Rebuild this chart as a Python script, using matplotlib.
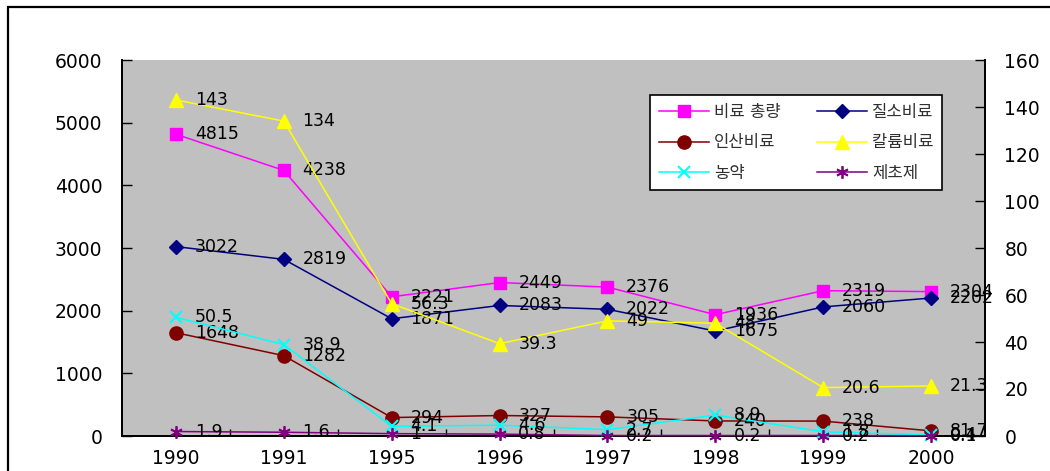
import matplotlib
matplotlib.use("Agg")
import matplotlib.pyplot as plt
from matplotlib.patches import Rectangle

plt.rcParams['font.family'] = ['DejaVu Sans', 'Noto Sans CJK KR']

# Categories (years)
years = ['1990', '1991', '1995', '1996', '1997', '1998', '1999', '2000']

# Primary axis series (fertiliser, left scale)
total_fert = [4815, 4238, 2221, 2449, 2376, 1936, 2319, 2304]
nitrogen = [3022, 2819, 1871, 2083, 2022, 1675, 2060, 2202]
phosphate = [1648, 1282, 294, 327, 305, 240, 238, 81.7]

# Secondary axis series (right scale)
potash = [143, 134, 56.3, 39.3, 49, 48, 20.6, 21.3]
pesticide = [50.5, 38.9, 4.1, 4.6, 2.7, 8.9, 1.8, 0.4]
herbicide = [1.9, 1.6, 1, 0.8, 0.2, 0.2, 0.2, 0.1]

names = ['비료 총량', '질소비료', '인산비료', '칼륨비료', '농약', '제초제']

W, H = 1050, 471
fig = plt.figure(figsize=(W / 100, H / 100), dpi=100)
fig.patch.set_facecolor('white')

# outer frame of the chart area
fig.patches.append(Rectangle((8 / W, -0.1), 1.2, 1 - 7 / H + 0.1,
                             transform=fig.transFigure, fill=False,
                             edgecolor='black', lw=1.6, zorder=0))

ax_l, ax_r = 122 / W, 985 / W
ax_b, ax_t = 1 - 436 / H, 1 - 60 / H
ax = fig.add_axes([ax_l, ax_b, ax_r - ax_l, ax_t - ax_b])
ax.set_facecolor('#C0C0C0')
ax2 = ax.twinx()

x = list(range(len(years)))

label_fs = 12.5
tick_fs = 13.5


def label_points(axis, xs, ys):
    for xi, yi in zip(xs, ys):
        txt = f"{yi:g}"
        axis.annotate(txt, (xi, yi), xytext=(13.5, 0), textcoords='offset points',
                      ha='left', va='center', fontsize=label_fs, color='black',
                      zorder=10, annotation_clip=False)


lw = 1.1
styles = [
    dict(color='#FF00FF', marker='s', ms=9, mfc='#FF00FF', mec='#FF00FF'),
    dict(color='#000080', marker='D', ms=7, mfc='#000080', mec='#000080'),
    dict(color='#800000', marker='o', ms=9.5, mfc='#800000', mec='#800000'),
    dict(color='#FFFF00', marker='^', ms=10, mfc='#FFFF00', mec='#FFFF00'),
    dict(color='#00FFFF', marker='x', ms=9, mew=1.5),
    dict(color='#800080', marker=(6, 2, 0), ms=9, mew=1.3),
]

handles = []
for data, st, nm in zip([total_fert, nitrogen, phosphate], styles[:3], names[:3]):
    h, = ax.plot(x, data, lw=lw, label=nm, zorder=3, **st)
    handles.append(h)
for data, st, nm in zip([potash, pesticide, herbicide], styles[3:], names[3:]):
    h, = ax2.plot(x, data, lw=lw, label=nm, zorder=3, clip_on=False, **st)
    handles.append(h)

for data in [total_fert, nitrogen, phosphate]:
    label_points(ax, x, data)
for data in [potash, pesticide, herbicide]:
    label_points(ax2, x, data)

ax.set_xlim(-0.5, len(years) - 0.5)
ax.set_ylim(0, 6000)
ax2.set_ylim(0, 160)
ax.set_yticks(range(0, 6001, 1000))
ax2.set_yticks(range(0, 161, 20))

ax.set_xticks(x)
ax.set_xticklabels(years, fontsize=tick_fs)
ax.set_xticks([i + 0.5 for i in range(len(years) - 1)], minor=True)
ax.tick_params(axis='x', which='major', length=0, pad=9)
ax.tick_params(axis='x', which='minor', direction='in', length=5, width=1)
ax.tick_params(axis='y', direction='in', length=7, width=1, labelsize=tick_fs, pad=14)
ax2.tick_params(axis='y', direction='in', length=7, width=1, labelsize=tick_fs, pad=14)

for a in (ax, ax2):
    a.spines['top'].set_visible(False)
    for s in ('left', 'right', 'bottom'):
        a.spines[s].set_linewidth(1.3)
        a.spines[s].set_color('black')
ax2.patch.set_visible(False)

order = [0, 2, 4, 1, 3, 5]
leg = ax2.legend([handles[i] for i in order], [names[i] for i in order],
                 ncol=2, loc='center',
                 bbox_to_anchor=(642 / W, 1 - 188 / H, 308 / W, 91 / H),
                 bbox_transform=fig.transFigure, mode='expand',
                 fontsize=12, frameon=True, fancybox=False, framealpha=1,
                 edgecolor='black', handlelength=3.0, handletextpad=0.3,
                 labelspacing=0.75, borderpad=0.5, columnspacing=1.0)
leg.get_frame().set_linewidth(1.2)
leg.set_zorder(20)
for t in leg.get_texts():
    t.set_color('#303030')

fig.savefig('out.png', dpi=100)
